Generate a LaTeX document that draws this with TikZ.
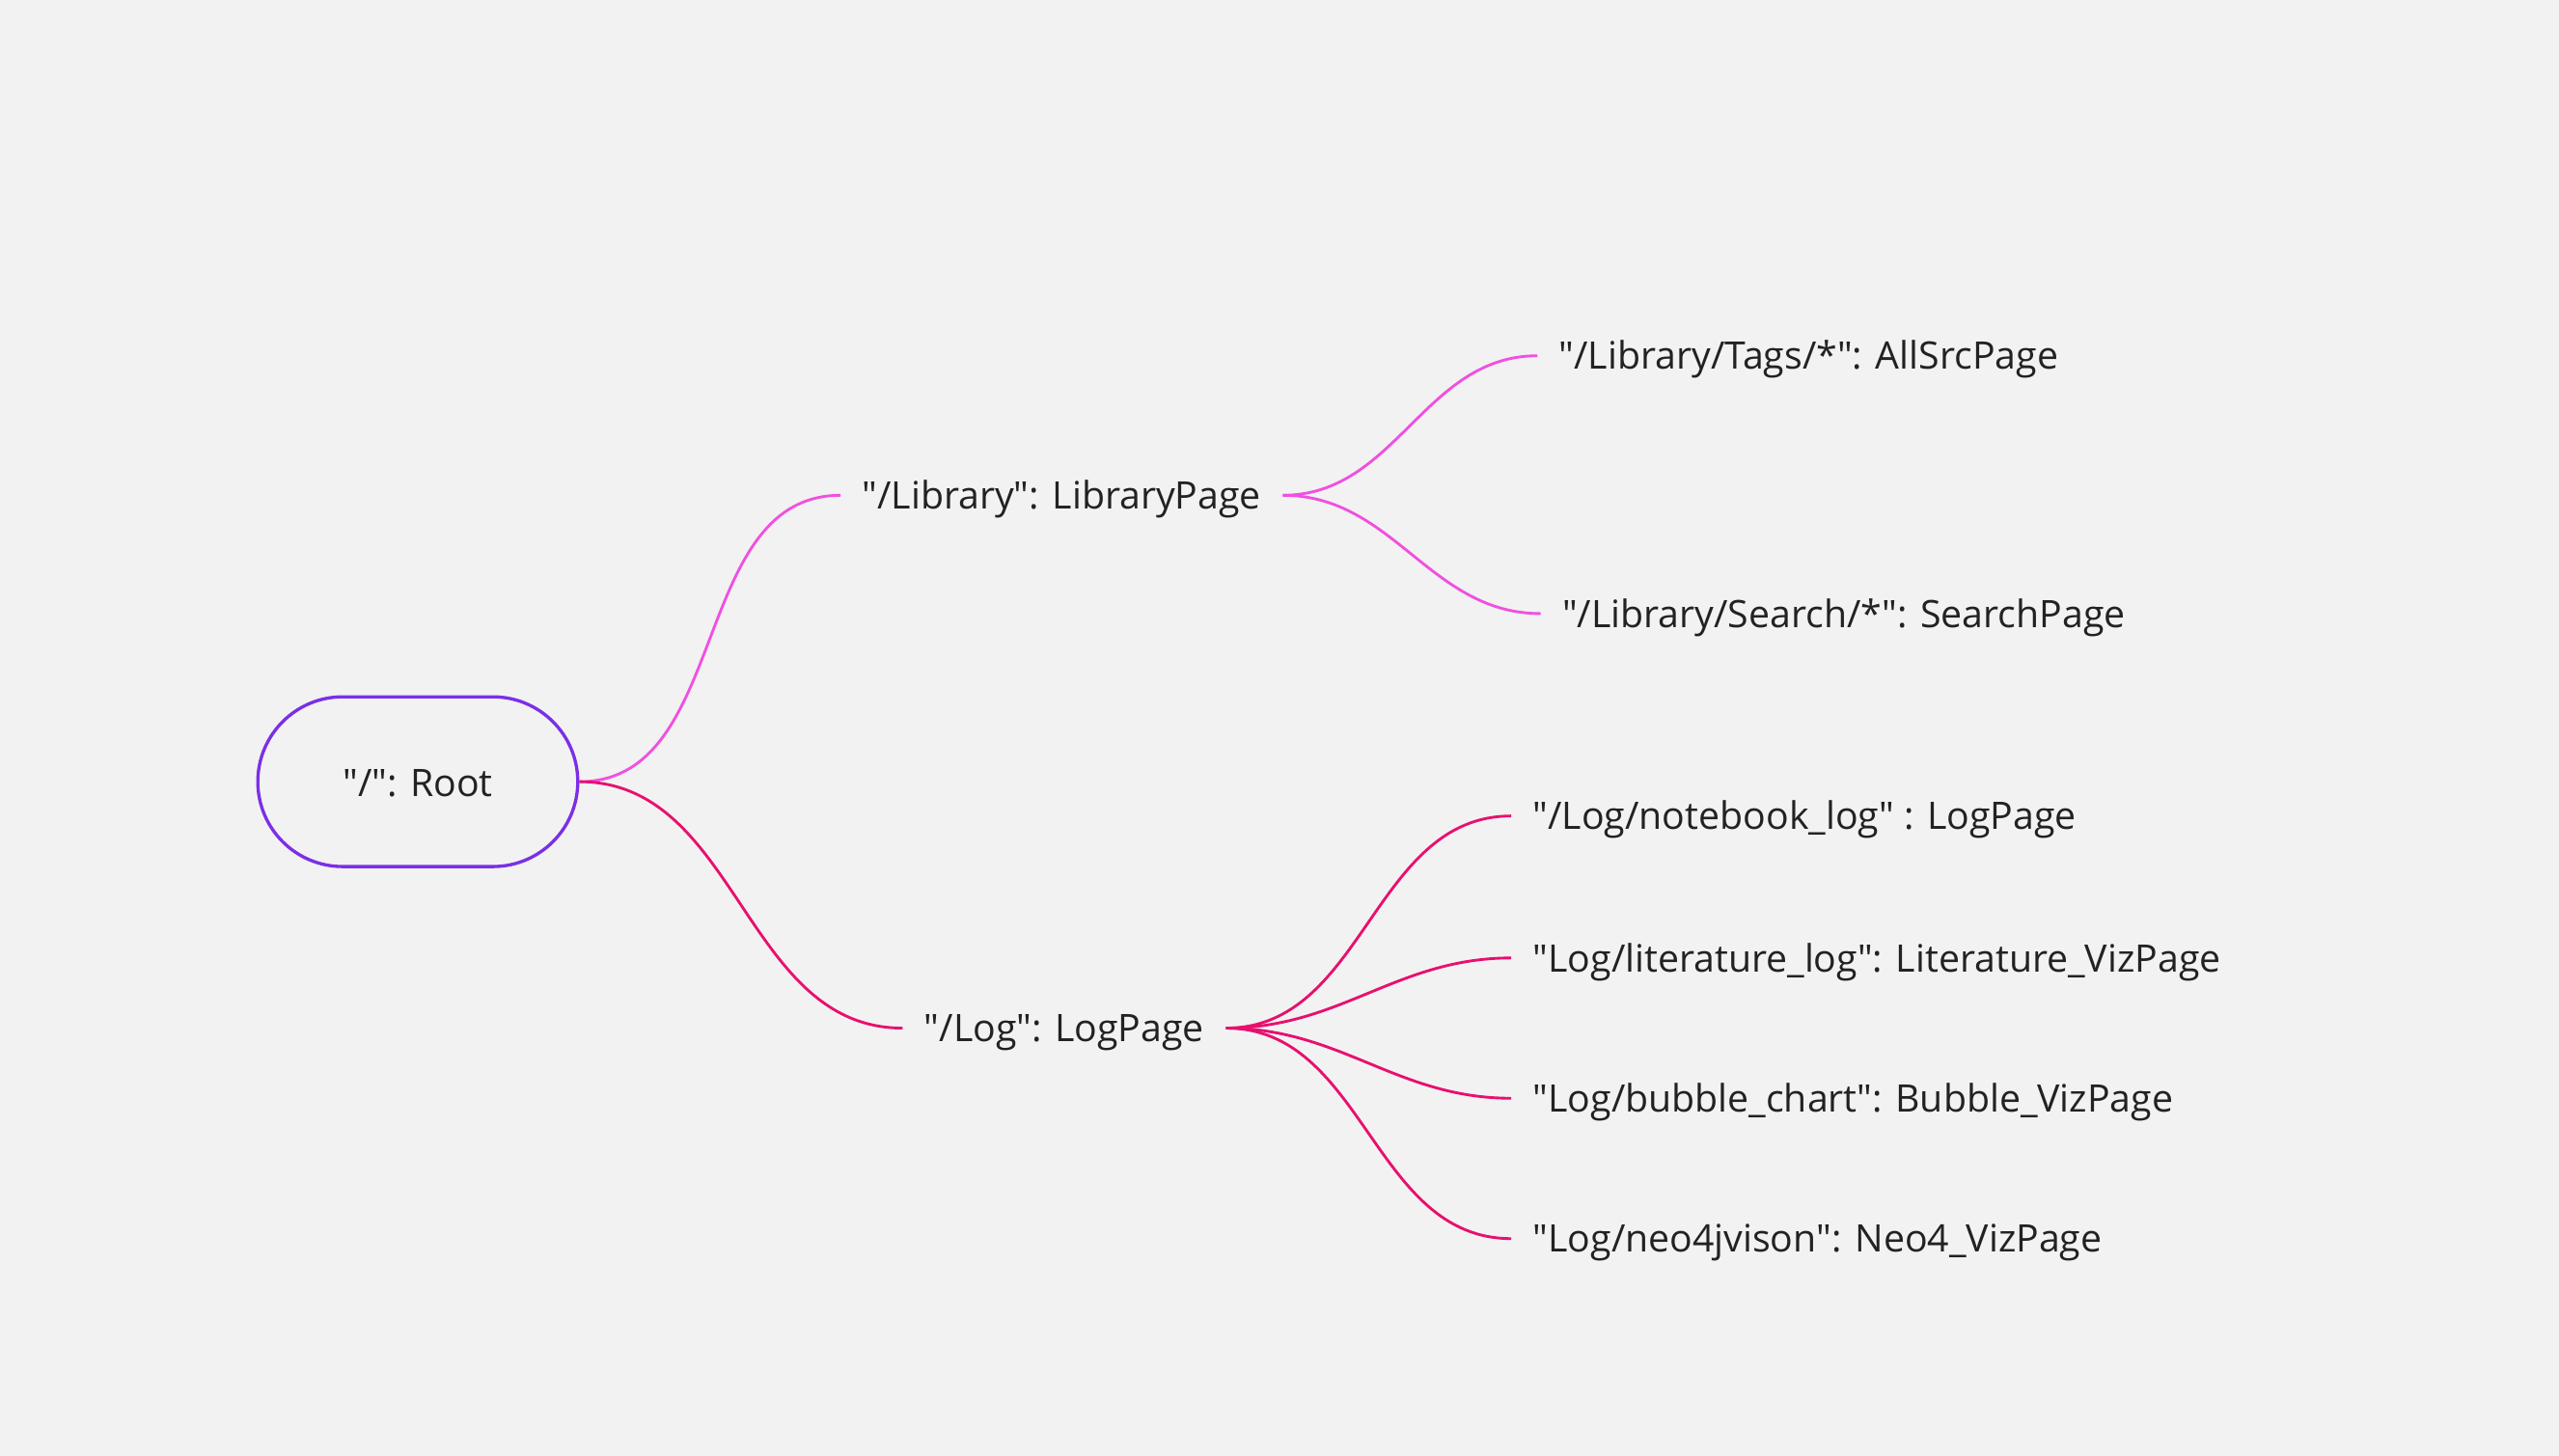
\documentclass[tikz,border=0pt]{standalone}
\usepackage{fontspec}
\setmainfont{Open Sans}
\usepackage{xcolor}
\definecolor{bgcol}{HTML}{F2F2F2}
\definecolor{rootcol}{HTML}{7B2FE6}
\definecolor{libcol}{HTML}{F050E0}
\definecolor{logcol}{HTML}{E8106E}
\definecolor{txtcol}{HTML}{222222}
\newcommand{\qt}{\textquotedbl}

\begin{document}
\begin{tikzpicture}[x=0.025cm, y=-0.025cm,
    route/.style={anchor=west, inner xsep=9.3pt, inner ysep=0pt, text=txtcol,
        font=\fontsize{16.5}{19}\selectfont, text height=1.2em, text depth=0em},
    rootbox/.style={draw=rootcol, line width=1.4pt, rounded corners=1.3cm,
        minimum width=4.9cm, minimum height=2.6cm, text=txtcol,
        font=\fontsize{16.5}{19}\selectfont, text height=1.3em, text depth=0em},
    libline/.style={draw=libcol, line width=1.2pt},
    logline/.style={draw=logcol, line width=1.2pt}]
    \fill[bgcol] (0,0) rectangle (1568,892);
    \useasboundingbox (0,0) rectangle (1568,892);

    \node[rootbox] (root) at (256,479) {\qt/\qt: Root};

    \node[route] (library) at (515,303.5) {\qt/Library\qt: LibraryPage};
    \node[route] (tags) at (942,218) {\qt/Library/Tags/*\qt: AllSrcPage};
    \node[route] (search) at (944,376) {\qt/Library/Search/*\qt: SearchPage};

    \node[route] (log) at (553,630) {\qt/Log\qt: LogPage};
    \node[route] (notebook) at (926,500) {\qt/Log/notebook\_log\qt{} : LogPage};
    \node[route] (literature) at (926,587) {\qt Log/literature\_log\qt: Literature\_VizPage};
    \node[route] (bubble) at (926,673) {\qt Log/bubble\_chart\qt: Bubble\_VizPage};
    \node[route] (neo) at (926,759) {\qt Log/neo4jvison\qt: Neo4\_VizPage};

    \draw[libline] (root.east) to[out=0,in=180] (library.west);
    \draw[libline] (library.east) to[out=0,in=180] (tags.west);
    \draw[libline] (library.east) to[out=0,in=180] (search.west);

    \draw[logline] (root.east) to[out=0,in=180] (log.west);
    \foreach \leaf in {notebook, literature, bubble, neo}
        \draw[logline] (log.east) to[out=0,in=180] (\leaf.west);
\end{tikzpicture}
\end{document}
